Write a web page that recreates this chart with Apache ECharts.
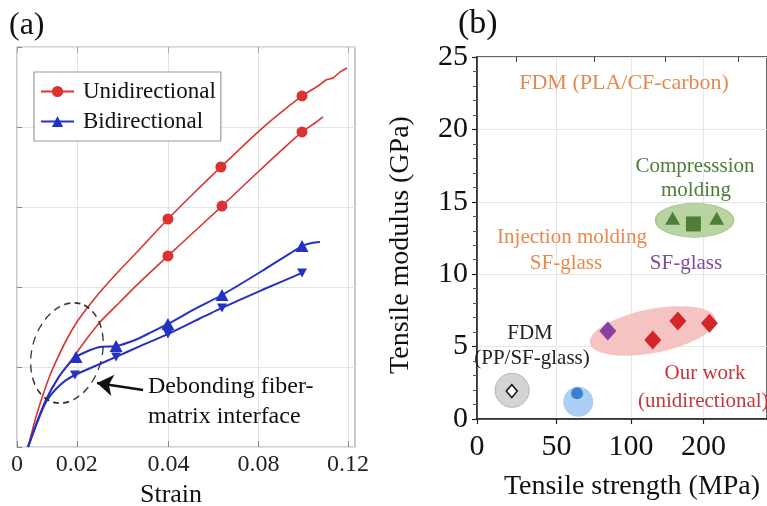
<!DOCTYPE html>
<html><head><meta charset="utf-8">
<script src="https://cdn.jsdelivr.net/npm/echarts@6/dist/echarts.min.js"></script>
<style>html,body{margin:0;padding:0;background:#fff}#c{width:767px;height:506px}</style>
</head><body><div id="c"></div>
<script>
const FONT = '"Liberation Serif","DejaVu Serif","Times New Roman",serif';
const RED = '#dc3232', BLUE = '#2431c4';

// ---------- Panel (a): stress-strain curves ----------
const strainTickPos = [0, 0.0217, 0.0549, 0.0875, 0.12];
const strainTickLabels = ['0', '0.02', '0.04', '0.08', '0.12'];
const stressTicks = [0, 50, 100, 150, 200, 250];

const uni1 = [[0.0040,0],[0.0054,9.4],[0.0072,20.6],[0.0094,32.5],[0.0120,45],[0.0149,56.3],[0.0181,67.5],[0.0217,78.1],[0.0257,87.5],[0.0301,96.9],[0.0366,109.4],[0.0435,121.9],[0.0547,142.5],[0.0645,159.4],[0.0739,175],[0.0881,198.1],[0.1033,219.4],[0.1091,225.6],[0.1120,229.4],[0.1145,230.6],[0.1171,234.4],[0.1196,236.9]];
const uni2 = [[0.0040,0],[0.0069,13.8],[0.0105,29.4],[0.0149,43.1],[0.0192,53.1],[0.0236,63.8],[0.0301,78.1],[0.0373,90.6],[0.0435,101.3],[0.0547,119.4],[0.0645,135],[0.0743,150.6],[0.0881,173.1],[0.1033,196.9],[0.1080,202.5],[0.1109,206.3]];
const bi1 = [[0.0040,0],[0.0069,13.8],[0.0105,29.4],[0.0149,43.1],[0.0185,51.3],[0.0214,56.3],[0.0257,60],[0.0301,62.5],[0.0359,63.1],[0.0428,66.9],[0.0482,71.3],[0.0547,76.9],[0.0645,86.3],[0.0743,95],[0.0888,110],[0.1033,125.6],[0.1069,127.5],[0.1098,128.1]];
const bi2 = [[0.0040,0],[0.0069,13.8],[0.0105,28.1],[0.0138,35.6],[0.0174,41.3],[0.0210,45],[0.0275,50],[0.0359,56.3],[0.0446,63.1],[0.0547,70.6],[0.0645,78.8],[0.0743,86.9],[0.0888,98.1],[0.1033,108.8]];
const uni1Marks = [[0.0547,142.5],[0.0739,175],[0.1033,219.4]];
const uni2Marks = [[0.0547,119.4],[0.0743,150.6],[0.1033,196.9]];
const bi1Marks = [[0.0214,56.3],[0.0359,63.1],[0.0547,76.9],[0.0743,95],[0.1033,125.6]];
const bi2Marks = [[0.0210,45],[0.0359,56.3],[0.0547,70.6],[0.0743,86.9],[0.1033,108.8]];
const debondRegion = [[0.0181, 58.75]];
const debondArrow = [[0.0457, 35.6], [0.0290, 40.0]];

// ---------- Panel (b): modulus vs strength ----------
const strengthTickPos = [0, 51.6, 100, 147.1];
const strengthTickLabels = ['0', '50', '100', '200'];
const strengthMinorPos = [25.8, 76.1, 122.6, 169.7];
const modulusTicks = [0, 5, 10, 15, 20, 25];

const fdmPP = [[22.6, 1.93]];
const fdmPPZone = [[22.8, 1.98]];
const blueDot = [[65.0, 1.77]];
const blueZone = [[65.8, 1.19]];
const injectionSF = [[85.0, 6.08]];
const ourWork = [[114.2, 5.46], [130.5, 6.77], [151.0, 6.61]];
const ourWorkZone = [[114.2, 6.08]];
const compTri = [[127.1, 13.86], [155.7, 13.86]];
const compSq = [[140.6, 13.47]];
const compZone = [[141.3, 13.72]];

function lookup(pos, labels) {
  return function (v) {
    for (let i = 0; i < pos.length; i++) if (Math.abs(pos[i] - v) < 1e-6) return labels[i];
    return '';
  };
}

const chart = echarts.init(document.getElementById('c'), null, {renderer: 'canvas'});

function txt(text, x, y, size, color, align, rot) {
  return {type: 'text', x: x, y: y, rotation: rot || 0, silent: true, z: 50,
    style: {text: text, font: 'normal ' + size + 'px ' + FONT, fill: color,
      textAlign: align || 'center', textVerticalAlign: 'middle', verticalAlign: 'middle'}};
}

const option = {
  animation: false,
  backgroundColor: '#fff',
  grid: [
    {left: 17, top: 47, width: 338, height: 400, show: true, borderColor: '#a9a9a9', borderWidth: 1.2, backgroundColor: 'transparent'},
    {left: 477, top: 57, width: 292, height: 362, show: true, borderColor: '#333', borderWidth: 1.5, backgroundColor: 'transparent'}
  ],
  xAxis: [
    {type: 'value', gridIndex: 0, min: 0, max: 0.1225,
      axisLine: {show: false},
      axisTick: {show: true, inside: true, length: 6, customValues: strainTickPos, lineStyle: {color: '#888'}},
      axisLabel: {customValues: strainTickPos, formatter: lookup(strainTickPos, strainTickLabels), fontFamily: FONT, fontSize: 24, color: '#222', margin: 6},
      splitLine: {show: true, lineStyle: {color: '#e3e3e3', width: 1}}},
    {type: 'value', gridIndex: 0, position: 'top', min: 0, max: 0.1225,
      axisLine: {show: false},
      axisTick: {show: true, inside: true, length: 6, customValues: strainTickPos, lineStyle: {color: '#aaa'}},
      axisLabel: {show: false}, splitLine: {show: false}},
    {type: 'value', gridIndex: 1, min: 0, max: 188.4,
      axisLine: {show: true, lineStyle: {color: '#222', width: 1.5}},
      axisTick: {show: true, inside: false, length: 5, customValues: strengthTickPos, lineStyle: {color: '#222', width: 1.2}},
      axisLabel: {customValues: strengthTickPos, formatter: lookup(strengthTickPos, strengthTickLabels), fontFamily: FONT, fontSize: 30, color: '#111', margin: 13},
      splitLine: {show: true, lineStyle: {color: '#e6e6e6', width: 1}}},
    {type: 'value', gridIndex: 1, min: 0, max: 188.4,
      axisLine: {show: false},
      axisTick: {show: true, inside: true, length: 5, customValues: strengthMinorPos, lineStyle: {color: '#444', width: 1}},
      axisLabel: {show: false}, splitLine: {show: false}}
  ],
  yAxis: [
    {type: 'value', gridIndex: 0, min: stressTicks[0], max: stressTicks[stressTicks.length - 1], interval: 50,
      axisLine: {show: false},
      axisTick: {show: true, inside: true, length: 5, lineStyle: {color: '#888'}},
      axisLabel: {show: false},
      splitLine: {show: true, lineStyle: {color: '#e3e3e3', width: 1}}},
    {type: 'value', gridIndex: 1, min: modulusTicks[0], max: modulusTicks[modulusTicks.length - 1], interval: 5,
      axisLine: {show: true, lineStyle: {color: '#222', width: 1.5}},
      axisTick: {show: true, inside: false, length: 5, lineStyle: {color: '#222', width: 1.2}},
      minorTick: {show: true, splitNumber: 5, length: 4, lineStyle: {color: '#555', width: 1}},
      axisLabel: {fontFamily: FONT, fontSize: 30, color: '#111', margin: 9},
      splitLine: {show: true, lineStyle: {color: '#e6e6e6', width: 1}}}
  ],
  legend: {
    left: 34, top: 72, orient: 'vertical', data: ['Unidirectional', 'Bidirectional'],
    itemWidth: 33, itemHeight: 14, itemGap: 7, padding: [8, 5, 8, 6],
    backgroundColor: '#fff', borderColor: '#999', borderWidth: 1.2,
    textStyle: {fontFamily: FONT, fontSize: 23, color: '#111', padding: [0, 0, 0, 4]}
  },
  series: [
    {type: 'line', name: 'Unidirectional', xAxisIndex: 0, yAxisIndex: 0, data: uni1, smooth: 0.2,
      symbol: 'circle', showSymbol: false, lineStyle: {color: RED, width: 1.6}, itemStyle: {color: RED}, z: 5},
    {type: 'line', name: 'Unidirectional', xAxisIndex: 0, yAxisIndex: 0, data: uni2, smooth: 0.2,
      symbol: 'circle', showSymbol: false, lineStyle: {color: RED, width: 1.6}, itemStyle: {color: RED}, z: 5},
    {type: 'line', name: 'Bidirectional', xAxisIndex: 0, yAxisIndex: 0, data: bi1, smooth: 0.2,
      symbol: 'triangle', showSymbol: false, lineStyle: {color: BLUE, width: 2}, itemStyle: {color: BLUE}, z: 6},
    {type: 'line', name: 'Bidirectional', xAxisIndex: 0, yAxisIndex: 0, data: bi2, smooth: 0.2,
      symbol: 'triangle', showSymbol: false, lineStyle: {color: BLUE, width: 2}, itemStyle: {color: BLUE}, z: 6},
    {type: 'scatter', name: 'Unidirectional', xAxisIndex: 0, yAxisIndex: 0, data: uni1Marks.concat(uni2Marks),
      symbol: 'circle', symbolSize: 11, itemStyle: {color: RED, opacity: 1}, z: 7},
    {type: 'scatter', name: 'Bidirectional', xAxisIndex: 0, yAxisIndex: 0, data: bi1Marks,
      symbol: 'triangle', symbolSize: [13, 12], itemStyle: {color: BLUE, opacity: 1}, z: 7},
    {type: 'scatter', name: 'Bidirectional', xAxisIndex: 0, yAxisIndex: 0, data: bi2Marks,
      symbol: 'triangle', symbolRotate: 180, symbolSize: [10, 9], itemStyle: {color: BLUE, opacity: 1}, z: 7},
    {type: 'scatter', name: 'debond', xAxisIndex: 0, yAxisIndex: 0, data: debondRegion, silent: true,
      symbol: 'circle', symbolSize: [70, 102], symbolRotate: -15,
      itemStyle: {color: 'rgba(0,0,0,0)', borderColor: '#333', borderWidth: 1.5, borderType: [7, 5], opacity: 1}, z: 8,
      markLine: {silent: true, symbol: ['none', 'arrow'], symbolSize: 16, label: {show: false},
        lineStyle: {color: '#111', width: 2.5, type: 'solid', opacity: 1},
        emphasis: {disabled: true},
        data: [[{coord: debondArrow[0]}, {coord: debondArrow[1]}]]}},

    // Panel (b)
    {type: 'scatter', name: 'zoneGray', xAxisIndex: 2, yAxisIndex: 1, data: fdmPPZone, silent: true,
      symbol: 'circle', symbolSize: 34, itemStyle: {color: '#d3d3d3', borderColor: '#b5b5b5', borderWidth: 1, opacity: 1}, z: 2},
    {type: 'scatter', name: 'zoneBlue', xAxisIndex: 2, yAxisIndex: 1, data: blueZone, silent: true,
      symbol: 'circle', symbolSize: 30, itemStyle: {color: '#acd0f3', opacity: 1}, z: 2},
    {type: 'scatter', name: 'zonePink', xAxisIndex: 2, yAxisIndex: 1, data: ourWorkZone, silent: true,
      symbol: 'circle', symbolSize: [128, 44], symbolRotate: 11, itemStyle: {color: '#f6c3c3', opacity: 1}, z: 2},
    {type: 'scatter', name: 'zoneGreen', xAxisIndex: 2, yAxisIndex: 1, data: compZone, silent: true,
      symbol: 'circle', symbolSize: [78, 34], itemStyle: {color: '#b8d4a2', borderColor: '#a3c58a', borderWidth: 1, opacity: 1}, z: 2},
    {type: 'scatter', name: 'FDM PP', xAxisIndex: 2, yAxisIndex: 1, data: fdmPP,
      symbol: 'diamond', symbolSize: [11, 13], itemStyle: {color: '#fff', borderColor: '#111', borderWidth: 1.5, opacity: 1}, z: 5},
    {type: 'scatter', name: 'blue', xAxisIndex: 2, yAxisIndex: 1, data: blueDot,
      symbol: 'circle', symbolSize: 12, itemStyle: {color: '#3b7fd1', opacity: 1}, z: 5},
    {type: 'scatter', name: 'Injection SF', xAxisIndex: 2, yAxisIndex: 1, data: injectionSF,
      symbol: 'diamond', symbolSize: [17, 19], itemStyle: {color: '#8b3f9f', opacity: 1}, z: 5},
    {type: 'scatter', name: 'Our work', xAxisIndex: 2, yAxisIndex: 1, data: ourWork,
      symbol: 'diamond', symbolSize: [17, 19], itemStyle: {color: '#d4262a', opacity: 1}, z: 5},
    {type: 'scatter', name: 'Comp tri', xAxisIndex: 2, yAxisIndex: 1, data: compTri,
      symbol: 'triangle', symbolSize: [15, 13], itemStyle: {color: '#4f7e3a', opacity: 1}, z: 5},
    {type: 'scatter', name: 'Comp sq', xAxisIndex: 2, yAxisIndex: 1, data: compSq,
      symbol: 'rect', symbolSize: 15, itemStyle: {color: '#4f7e3a', opacity: 1}, z: 5}
  ],
  graphic: [
    txt('(a)', 9, 26, 32, '#111', 'left'),
    txt('(b)', 458, 24, 34, '#111', 'left'),
    txt('Strain', 171, 495, 26, '#111'),
    txt('Debonding fiber-', 148, 387, 24, '#111', 'left'),
    txt('matrix interface', 148, 417, 24, '#111', 'left'),
    txt('Tensile modulus (GPa)', 401, 245, 28, '#111', 'center', Math.PI / 2),
    txt('Tensile strength (MPa)', 632, 487, 28, '#111'),
    txt('FDM (PLA/CF-carbon)', 624, 83, 22, '#e8884e'),
    txt('Compresssion', 695, 166, 21, '#4e7c3a'),
    txt('molding', 696, 190, 21, '#4e7c3a'),
    txt('Injection molding', 572, 237, 21, '#e8884e'),
    txt('SF-glass', 566, 263, 21, '#e8884e'),
    txt('SF-glass', 686, 263, 21, '#7d4b9e'),
    txt('FDM', 530, 333, 21, '#222'),
    txt('(PP/SF-glass)', 532, 358, 21, '#222'),
    txt('Our work', 705, 373, 21, '#c3383c'),
    txt('(unidirectional)', 638, 401, 21, '#c3383c', 'left')
  ]
};
chart.setOption(option);
</script></body></html>
